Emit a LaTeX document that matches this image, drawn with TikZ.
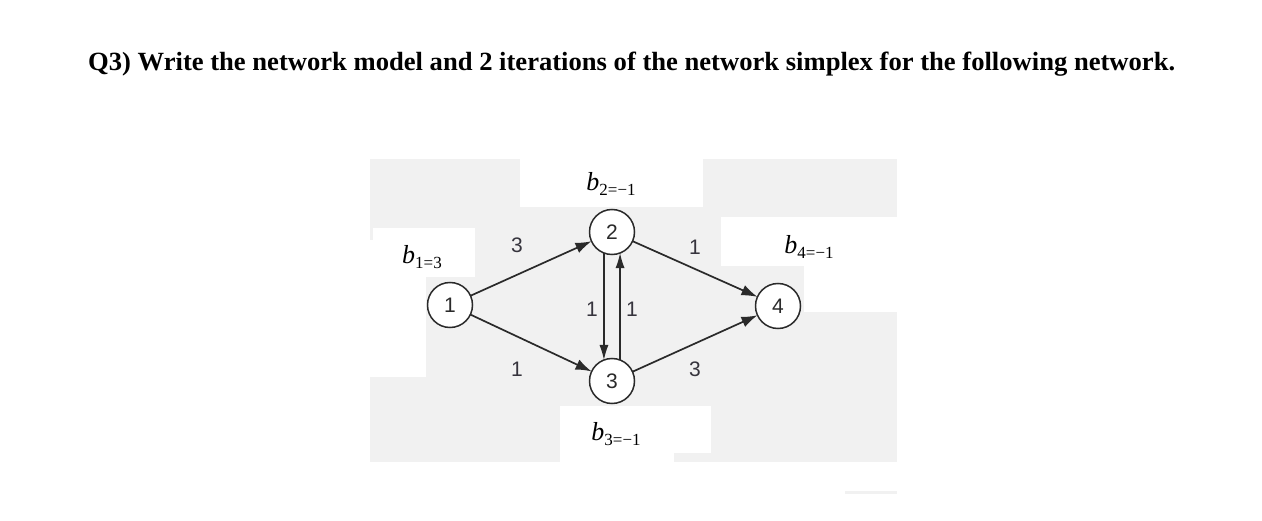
\documentclass[tikz,border=0pt]{standalone}
\usepackage{fontspec}
\setmainfont{Liberation Serif}
\newfontfamily\lsans{Liberation Sans}
\usetikzlibrary{arrows.meta}
\definecolor{bggray}{HTML}{F1F1F1}
\definecolor{ink}{HTML}{2A2A2A}
\definecolor{labink}{HTML}{36343D}
\tikzset{
  vnode/.style={circle, draw=ink, line width=1.5pt, fill=white, minimum size=45pt, inner sep=0pt, outer sep=0pt,
    text=ink, font=\lsans\fontsize{21}{21}\selectfont},
  darc/.style={draw=ink, line width=1.7pt, -{Latex[length=16pt,width=11pt]}},
  varc/.style={draw=ink, line width=1.2pt, -{Latex[length=15pt,width=9pt]}},
  elab/.style={text=labink, font=\lsans\fontsize{21}{21}\selectfont, inner sep=0pt},
  blab/.style={text=black, inner sep=0pt}
}
\newcommand{\bval}[2]{{\fontsize{26}{26}\selectfont\itshape b}\raisebox{-4.5pt}{\fontsize{17}{17}\selectfont #1=#2}}
\begin{document}
\begin{tikzpicture}[x=1pt,y=-1pt]
\useasboundingbox (0,0) rectangle (1262,521);
% background patchwork
\fill[bggray] (370,159) rectangle (897,462);
\fill[white] (520,155) rectangle (703,207);
\fill[white] (721,217) rectangle (897,266);
\fill[white] (804,266) rectangle (897,312);
\fill[white] (373,228) rectangle (475,277);
\fill[white] (370,240) rectangle (426,377);
\fill[white] (560,406) rectangle (711,453);
\fill[white] (560,453) rectangle (674,462);
\fill[bggray] (845,491) rectangle (897,493.5);
% title
\node[anchor=base west, inner sep=0pt] (title) at (88,71)
  {\resizebox{1087pt}{18.5pt}{\bfseries\fontsize{24}{24}\selectfont Q3) Write the network model and 2 iterations of the network simplex for the following network.}};
% nodes
\node[vnode] (n1) at (450,305) {1};
\node[vnode] (n2) at (612,232) {2};
\node[vnode] (n3) at (612,381) {3};
\node[vnode] (n4) at (778,306) {4};
% arcs
\draw[darc] (n1) -- (n2);
\draw[darc] (n1) -- (n3);
\draw[darc] (n2) -- (n4);
\draw[darc] (n3) -- (n4);
\draw[varc] (n2.-111) -- (n3.111);
\draw[varc] (n3.69) -- (n2.-69);
% arc labels
\node[elab] (l12) at (517,245) {3};
\node[elab] (l13) at (517,369) {1};
\node[elab] (l24) at (695,247) {1};
\node[elab] (l34) at (695,369) {3};
\node[elab] (l23) at (592,309) {1};
\node[elab] (l32) at (632,309) {1};
% supply labels
\node[blab] (b1) at (422,257) {\bval{1}{3}};
\node[blab] (b2) at (611,184) {\bval{2}{−1}};
\node[blab] (b4) at (809,247) {\bval{4}{−1}};
\node[blab] (b3) at (616,434) {\bval{3}{−1}};
\end{tikzpicture}
\end{document}
